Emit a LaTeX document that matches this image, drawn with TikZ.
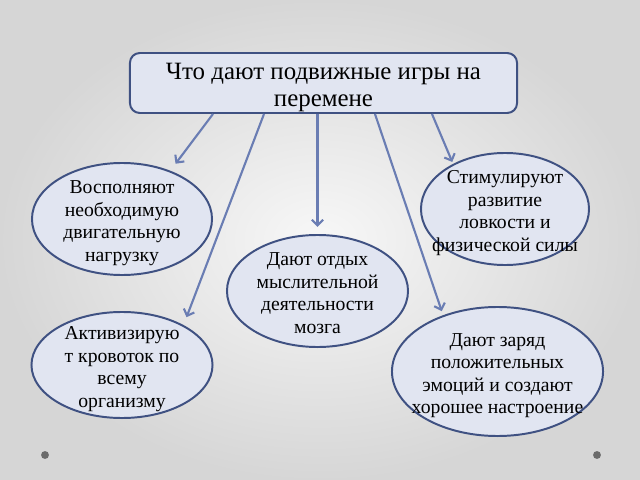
\documentclass[tikz,border=0pt]{standalone}
\usepackage{fontspec}
\setmainfont{Liberation Serif}
\usetikzlibrary{arrows.meta,shapes.geometric}
\definecolor{bord}{HTML}{3F5182}
\definecolor{boxfill}{HTML}{E1E5F1}
\definecolor{arrowblue}{HTML}{6A7DB3}
\newcommand\otext[1]{\smash{\makebox[0pt]{\raisebox{-6.5pt}{\begin{tabular}{@{}c@{}}#1\end{tabular}}}}}
\tikzset{
  topbox/.style={rectangle, rounded corners=7pt, draw=bord, line width=1.4pt, fill=boxfill,
    inner ysep=0pt, minimum width=9.675cm, minimum height=1.5cm, align=center,
    font=\fontsize{17.7}{19.8}\selectfont},
  oval/.style={ellipse, draw=bord, line width=1.4pt, fill=boxfill, inner sep=0pt,
    font=\fontsize{14}{16}\selectfont},
  arr/.style={draw=arrowblue, line width=1.5pt, -{Straight Barb[length=4pt,width=8pt]}},
}
\begin{document}
\begin{tikzpicture}[x=0.025cm, y=-0.025cm]
\useasboundingbox (0,0) rectangle (640,480);
\shade[inner color=white!97!black, outer color=black!16] (0,0) rectangle (640,480);
\fill[black!58] (45,455) circle [radius=2.8pt];
\fill[black!58] (597,455) circle [radius=2.8pt];

\node[topbox] (top) at (323.5,83) {\rule{0pt}{18pt}Что дают подвижные игры на\\перемене};

\node[oval, minimum width=4.5cm, minimum height=2.8cm] (e1) at (122,219)
  {\otext{Восполняют\\необходимую\\двигательную\\нагрузку}};
\node[oval, minimum width=4.2cm, minimum height=2.8cm] (e2) at (505,209)
  {\otext{Стимулируют\\развитие\\ловкости и\\физической силы}};
\node[oval, minimum width=4.525cm, minimum height=2.8cm] (e3) at (317.5,291)
  {\otext{Дают отдых\\мыслительной\\деятельности\\мозга}};
\node[oval, minimum width=4.525cm, minimum height=2.65cm] (e4) at (122,365)
  {\otext{Активизирую\\т кровоток по\\всему\\организму}};
\node[oval, minimum width=5.275cm, minimum height=3.225cm] (e5) at (497.5,371.5)
  {\otext{Дают заряд\\положительных\\эмоций и создают\\хорошее настроение}};

\draw[arr, shorten >=6.2pt] (top.south -| 213,0) -- (e1.45.7);
\draw[arr, shorten >=6pt] (top.south -| 264,0) -- (e4.33.3);
\draw[arr, shorten >=5pt] (e3.north |- top.south) -- (e3.north);
\draw[arr, shorten >=3pt] (top.south -| 375,0) -- (e5.134.6);
\draw[arr, shorten >=1.5pt] (top.south -| 432,0) -- (e2.139.1);
\end{tikzpicture}
\end{document}
